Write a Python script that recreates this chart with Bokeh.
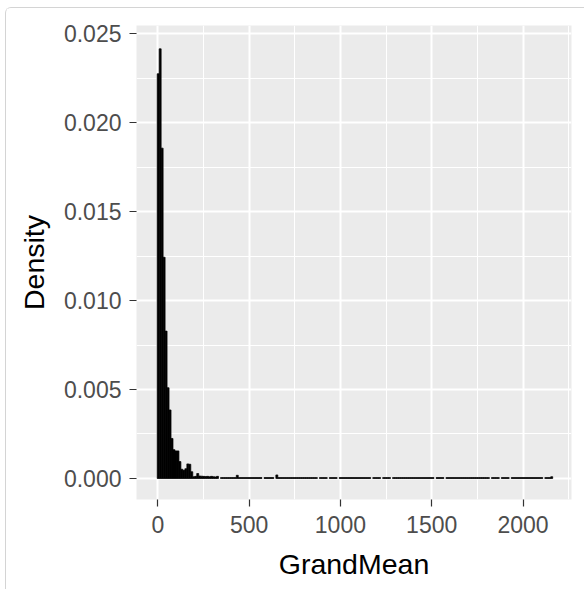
from bokeh.plotting import figure
from bokeh.models import Range1d, FixedTicker, ColumnDataSource
from bokeh.embed import file_html
from bokeh.resources import INLINE

# ---- data ----
bin_start = -3.3          # left edge of the first bin
bin_width = 10.83         # width of each bin (200 bins)
density = [
    0.02274, 0.02414, 0.01856, 0.01243, 0.00828, 0.00510, 0.00385, 0.00225, 0.00162, 0.00155,
    0.00155, 0.00095, 0.00052, 0.00046, 0.00055, 0.00082, 0.00080, 0.00038, 0.00010, 0.00012,
    0.00028, 0.00014, 0.00013, 0.00012, 0.00011, 0.00012, 0.00010, 0.00012, 0.00010, 0.00009,
    0.00012, 0.0, 0.00005, 0.00005, 0.00005, 0.00005, 0.00005, 0.00005, 0.00005, 0.00005,
    0.00018, 0.00005, 0.00005, 0.00005, 0.00005, 0.00005, 0.00005, 0.00005, 0.00005, 0.00005,
    0.00005, 0.00005, 0.00005, 0.0, 0.00005, 0.00005, 0.00005, 0.00005, 0.00005, 0.0,
    0.00020, 0.00005, 0.00005, 0.00005, 0.00005, 0.00005, 0.00005, 0.00005, 0.00005, 0.00005,
    0.00005, 0.00005, 0.00005, 0.00005, 0.00005, 0.00005, 0.00005, 0.00005, 0.00005, 0.00005,
    0.00005, 0.0, 0.00005, 0.00005, 0.00005, 0.00005, 0.0, 0.00005, 0.00005, 0.00005,
    0.00005, 0.0, 0.00005, 0.00005, 0.00005, 0.00005, 0.00005, 0.00005, 0.00005, 0.00005,
    0.00005, 0.00005, 0.00005, 0.00005, 0.00005, 0.00005, 0.00005, 0.00005, 0.0, 0.00005,
    0.00005, 0.00005, 0.00005, 0.0, 0.00005, 0.00005, 0.00005, 0.00005, 0.0, 0.00005,
    0.00005, 0.00005, 0.00005, 0.00005, 0.00005, 0.00005, 0.00005, 0.00005, 0.00005, 0.00005,
    0.00005, 0.00005, 0.00005, 0.00005, 0.00005, 0.00005, 0.00005, 0.00005, 0.00005, 0.00005,
    0.0, 0.00005, 0.00005, 0.00005, 0.00005, 0.0, 0.00005, 0.00005, 0.00005, 0.00005,
    0.00005, 0.00005, 0.00005, 0.00005, 0.00005, 0.00005, 0.00005, 0.00005, 0.00005, 0.00005,
    0.00005, 0.00005, 0.00005, 0.00005, 0.00005, 0.00005, 0.00005, 0.00005, 0.0, 0.00005,
    0.00005, 0.00005, 0.00005, 0.0, 0.00005, 0.00005, 0.00005, 0.00005, 0.0, 0.00005,
    0.00005, 0.00005, 0.00005, 0.00005, 0.00005, 0.00005, 0.00005, 0.00005, 0.00005, 0.00005,
    0.00005, 0.00005, 0.00005, 0.00005, 0.00005, 0.0, 0.00005, 0.00005, 0.00005, 0.00010,
]
x_ticks = [0, 500, 1000, 1500, 2000]
x_tick_labels = ["0", "500", "1000", "1500", "2000"]
x_minor = [250, 750, 1250, 1750, 2250]
y_ticks = [0.0, 0.005, 0.010, 0.015, 0.020, 0.025]
y_tick_labels = ["0.000", "0.005", "0.010", "0.015", "0.020", "0.025"]
y_minor = [0.0025, 0.0075, 0.0125, 0.0175, 0.0225]
x_title = "GrandMean"
y_title = "Density"

# ---- build bins (skip empty bins, like ggplot draws nothing visible) ----
left, right, top = [], [], []
for k, d in enumerate(density):
    if d > 0:
        left.append(bin_start + k * bin_width)
        right.append(bin_start + (k + 1) * bin_width)
        top.append(d)
src = ColumnDataSource(dict(left=left, right=right, top=top, bottom=[0.0] * len(top)))

FONT = "Liberation Sans"

p = figure(width=579, height=582, frame_width=435, frame_height=474,
           min_border_left=130, min_border_right=14, min_border_top=17, min_border_bottom=91,
           x_range=Range1d(-116.6, 2265.6), y_range=Range1d(-0.00118, 0.02545),
           output_backend="svg", toolbar_location=None)
p.margin = (7, 0, 0, 5)
p.styles = {"border-left": "1px solid #d4d4d4", "border-top": "1px solid #d4d4d4",
            "border-top-left-radius": "6px"}

p.background_fill_color = "#EBEBEB"
p.border_fill_color = "white"
p.outline_line_color = None

p.quad(left="left", right="right", bottom="bottom", top="top", source=src,
       fill_color="black", line_color="black", line_width=0.7)

p.xaxis.ticker = FixedTicker(ticks=x_ticks, minor_ticks=x_minor)
p.yaxis.ticker = FixedTicker(ticks=y_ticks, minor_ticks=y_minor)
p.xaxis.major_label_overrides = {t: l for t, l in zip(x_ticks, x_tick_labels)}
p.yaxis.major_label_overrides = {t: l for t, l in zip(y_ticks, y_tick_labels)}

for ax in (p.xaxis, p.yaxis):
    ax.axis_line_color = None
    ax.major_tick_line_color = "#333333"
    ax.major_tick_line_width = 1.2
    ax.major_tick_out = 7
    ax.major_tick_in = 0
    ax.minor_tick_out = 0
    ax.minor_tick_in = 0
    ax.major_label_text_font = FONT
    ax.major_label_text_font_size = "23px"
    ax.major_label_text_color = "#4D4D4D"
    ax.axis_label_text_font = FONT
    ax.axis_label_text_font_size = "28.5px"
    ax.axis_label_text_font_style = "normal"
    ax.axis_label_text_color = "black"

p.xaxis.axis_label = x_title
p.yaxis.axis_label = y_title
p.xaxis.major_label_standoff = 9
p.yaxis.major_label_standoff = 8
p.xaxis.axis_label_standoff = 12
p.yaxis.axis_label_standoff = 11

for g in (p.xgrid, p.ygrid):
    g.grid_line_color = "white"
    g.grid_line_width = 2
    g.minor_grid_line_color = "white"
    g.minor_grid_line_width = 1

open("out.html", "w").write(file_html(p, INLINE))
